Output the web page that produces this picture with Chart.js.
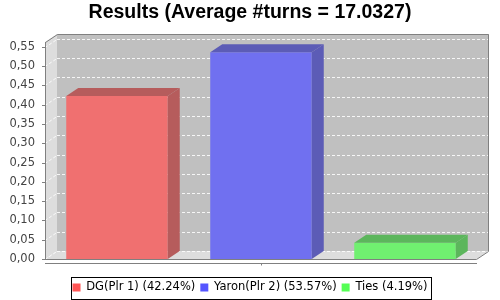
<!DOCTYPE html>
<html><head><meta charset="utf-8">
<script src="https://cdn.jsdelivr.net/npm/chart.js@4"></script>
<style>html,body{margin:0;padding:0;background:#fff}</style>
</head><body>
<canvas id="c" width="500" height="300"></canvas>
<script>
// ---- data ----
const titleText = "Results (Average #turns = 17.0327)";
const categories = [""];
const seriesNames = ["DG(Plr 1) (42.24%)", "Yaron(Plr 2) (53.57%)", "Ties (4.19%)"];
const seriesValues = [0.4224, 0.5357, 0.0419];
const yTickValues = [0, 0.05, 0.10, 0.15, 0.20, 0.25, 0.30, 0.35, 0.40, 0.45, 0.50, 0.55];
const yMin = 0, yMax = 0.5625;

// ---- styles ----
const legendColors = ["#ff5555", "#5555ff", "#55ff55"];
const frontColors = ["#f07070", "#7070f0", "#70f070"];
const sideColors = ["#b65c5c", "#5c5cb6", "#5cb65c"];
const DX = 12, DY = 8;

function poly(ctx, pts) {
  ctx.beginPath();
  ctx.moveTo(pts[0][0], pts[0][1]);
  for (let i = 1; i < pts.length; i++) ctx.lineTo(pts[i][0], pts[i][1]);
  ctx.closePath();
}

const plot3d = {
  id: 'plot3d',
  beforeDraw(chart) {
    const ctx = chart.ctx;
    ctx.save(); ctx.fillStyle = '#fff'; ctx.fillRect(0, 0, chart.width, chart.height); ctx.restore();
  },
  beforeDatasetsDraw(chart) {
    const ctx = chart.ctx;
    const {left: L, right: R, top: T, bottom: B} = chart.chartArea;
    const ys = chart.scales.y;
    ctx.save();
    ctx.fillStyle = '#c0c0c0';
    ctx.fillRect(L + DX, T - DY, R - L, B - T);
    ctx.fillStyle = '#dddddd';
    poly(ctx, [[L, T], [L + DX, T - DY], [L + DX, B - DY], [L, B]]); ctx.fill();
    poly(ctx, [[L, B], [L + DX, B - DY], [R + DX, B - DY], [R, B]]); ctx.fill();
    // gridlines
    ctx.strokeStyle = 'rgba(255,255,255,0.85)';
    ctx.lineWidth = 1;
    ctx.setLineDash([3, 2]);
    ys.ticks.forEach(t => {
      const py = Math.round(ys.getPixelForValue(t.value)) + 0.5;
      ctx.beginPath(); ctx.moveTo(L + DX, py - DY); ctx.lineTo(R + DX, py - DY); ctx.stroke();
      ctx.beginPath(); ctx.moveTo(L, py); ctx.lineTo(L + DX, py - DY); ctx.stroke();
    });
    ctx.setLineDash([]);
    // outline
    ctx.strokeStyle = '#808080';
    poly(ctx, [[L + 0.5, B + 0.5], [L + 0.5, T + 0.5], [L + DX + 0.5, T - DY + 0.5], [R + DX - 0.5, T - DY + 0.5],
               [R + DX - 0.5, B - DY + 0.5], [R - 0.5, B + 0.5]]);
    ctx.stroke();
    // y axis line + ticks
    ctx.beginPath(); ctx.moveTo(L + 0.5, T); ctx.lineTo(L + 0.5, B + 1); ctx.stroke();
    ys.ticks.forEach(t => {
      const py = Math.round(ys.getPixelForValue(t.value)) + 0.5;
      ctx.beginPath(); ctx.moveTo(L - 3, py); ctx.lineTo(L, py); ctx.stroke();
    });
    // x axis line + center tick
    const ay = B + 4.5;
    ctx.beginPath(); ctx.moveTo(L, ay); ctx.lineTo(R, ay); ctx.stroke();
    const cx = Math.round(chart.scales.x.getPixelForValue(0)) + 0.5;
    ctx.beginPath(); ctx.moveTo(cx, ay); ctx.lineTo(cx, ay + 2); ctx.stroke();
    ctx.restore();
  },
  afterDatasetsDraw(chart) {
    const ctx = chart.ctx;
    ctx.save();
    chart.data.datasets.forEach((ds, i) => {
      const meta = chart.getDatasetMeta(i);
      meta.data.forEach(bar => {
        const p = bar.getProps(['x', 'y', 'base', 'width'], true);
        const l = p.x - p.width / 2, r = p.x + p.width / 2, t = p.y, b = p.base;
        ctx.fillStyle = sideColors[i];
        poly(ctx, [[r, t], [r + DX, t - DY], [r + DX, b - DY], [r, b]]); ctx.fill();
        poly(ctx, [[l, t], [l + DX, t - DY], [r + DX, t - DY], [r, t]]); ctx.fill();
      });
    });
    ctx.restore();
  },
  afterDraw(chart) {
    const lg = chart.legend;
    if (!lg || !lg.legendHitBoxes || !lg.legendHitBoxes.length) return;
    const hb = lg.legendHitBoxes;
    let x0 = Infinity, x1 = -Infinity, y0 = Infinity, y1 = -Infinity;
    hb.forEach(h => { x0 = Math.min(x0, h.left); x1 = Math.max(x1, h.left + h.width); y0 = Math.min(y0, h.top); y1 = Math.max(y1, h.top + h.height); });
    const ctx = chart.ctx;
    ctx.save();
    ctx.strokeStyle = '#000'; ctx.lineWidth = 1;
    ctx.strokeRect(Math.round(x0 - 2) + 0.5, Math.round(y0 - 5) + 0.5, Math.round(x1 - x0 + 5), Math.round(y1 - y0 + 10));
    ctx.restore();
  }
};

const datasets = seriesNames.map((name, i) => ({
  label: name,
  data: [seriesValues[i]],
  backgroundColor: frontColors[i],
  borderWidth: 0,
  yAxisID: 'y'
}));

new Chart(document.getElementById('c'), {
  type: 'bar',
  data: { labels: categories, datasets },
  plugins: [plot3d],
  options: {
    responsive: false,
    animation: false,
    devicePixelRatio: 1,
    layout: { padding: { left: 0, right: 0, top: 0, bottom: 0 } },
    datasets: { bar: { categoryPercentage: 1.0, barPercentage: 0.705 } },
    plugins: {
      title: {
        display: true, text: titleText, color: '#000',
        font: { family: 'Liberation Sans', weight: 'bold', size: 19.5, lineHeight: 1.0 },
        padding: { top: 3, bottom: 19.5 }
      },
      legend: {
        display: true, position: 'bottom', maxHeight: 23.25,
        labels: {
          boxWidth: 8, boxHeight: 8, padding: 5, color: '#000',
          font: { family: 'DejaVu Sans', size: 11.5 },
          generateLabels: (chart) => chart.data.datasets.map((ds, i) => ({
            text: ds.label, fillStyle: legendColors[i], strokeStyle: legendColors[i],
            lineWidth: 0, hidden: false, datasetIndex: i
          }))
        },
        onClick: () => {}
      },
      tooltip: { enabled: false }
    },
    scales: {
      x: {
        type: 'category',
        grid: { display: false, drawTicks: false },
        border: { display: false },
        ticks: { display: false },
        afterFit: (s) => { s.height = 17.75; s.paddingLeft = 0; s.paddingRight = 0; }
      },
      y: {
        position: 'left',
        min: yMin, max: yMax,
        grid: { display: false, drawTicks: false },
        border: { display: false },
        ticks: {
          padding: 10, color: '#444444',
          font: { family: 'DejaVu Sans', size: 11.5 },
          callback: (v) => Number(v).toFixed(2).replace('.', ',')
        },
        afterBuildTicks: (s) => { s.ticks = yTickValues.map(v => ({ value: v })); },
        afterFit: (s) => { s.width = 45; s.paddingTop = 0; s.paddingBottom = 0; }
      },
      yRight: {
        position: 'right',
        min: 0, max: 1,
        grid: { display: false, drawTicks: false },
        border: { display: false },
        ticks: { display: false },
        afterFit: (s) => { s.width = 23; s.paddingTop = 0; s.paddingBottom = 0; }
      }
    }
  }
});
</script>
</body></html>
